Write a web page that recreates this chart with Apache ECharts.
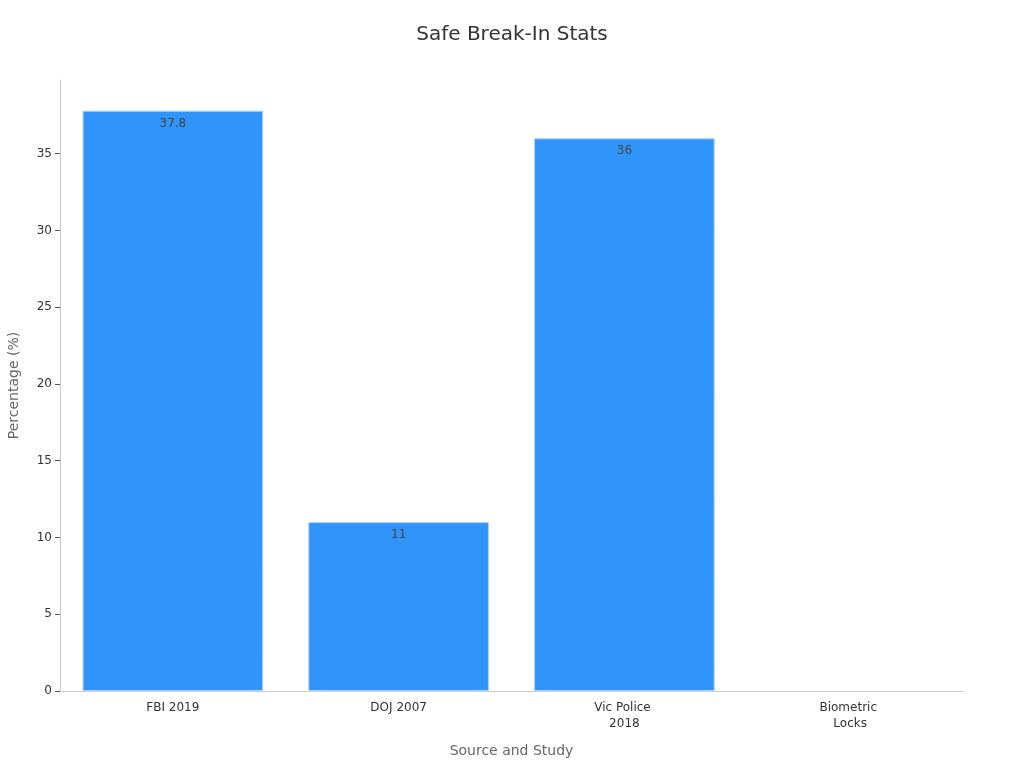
<!DOCTYPE html>
<html>
<head>
<meta charset="utf-8">
<script src="https://cdn.jsdelivr.net/npm/echarts@6/dist/echarts.min.js"></script>
<style>
  html, body { margin: 0; padding: 0; background: #fff; }
  #main { width: 1024px; height: 768px; }
</style>
</head>
<body>
<div id="main"></div>
<script>
  // data
  var categories = ['FBI 2019', 'DOJ 2007', 'Vic Police 2018', 'Biometric Locks'];
  var percentValues = [37.8, 11, 36, null];
  var yTicks = [0, 5, 10, 15, 20, 25, 30, 35];

  var myChart = echarts.init(document.getElementById('main'));
  myChart.setOption({
    textStyle: { fontFamily: 'DejaVu Sans' },
    title: {
      text: 'Safe Break-In Stats',
      left: 'center',
      top: 20,
      textStyle: { fontSize: 20, fontWeight: 'normal', color: '#333' }
    },
    grid: { left: 60, right: 61, top: 80, bottom: 77, outerBoundsMode: 'none', containLabel: false },
    xAxis: {
      type: 'category',
      data: categories,
      name: 'Source and Study',
      nameLocation: 'middle',
      nameGap: 53,
      nameTextStyle: { fontSize: 14, color: '#666' },
      axisLine: { lineStyle: { color: '#ccc' } },
      axisTick: { alignWithLabel: true, lineStyle: { color: '#555' } },
      axisLabel: {
        color: '#333', fontSize: 12, margin: 9, lineHeight: 16,
        width: 80, overflow: 'break', interval: 0
      }
    },
    yAxis: {
      type: 'value',
      min: 0,
      max: 39.8,
      interval: 5,
      name: 'Percentage (%)',
      nameLocation: 'middle',
      nameGap: 39,
      nameTextStyle: { fontSize: 14, color: '#666' },
      axisLine: { show: true, lineStyle: { color: '#ccc' } },
      axisTick: { show: true, customValues: yTicks, lineStyle: { color: '#555' } },
      axisLabel: { color: '#333', fontSize: 12, customValues: yTicks },
      splitLine: { show: false }
    },
    series: [
      {
        type: 'bar',
        data: percentValues,
        barCategoryGap: '20%',
        itemStyle: { color: '#3094fa', borderColor: '#a9d1fb', borderWidth: 1 },
        label: {
          show: true,
          position: 'insideTop',
          distance: 7,
          color: '#444',
          fontSize: 12
        }
      }
    ]
  });
</script>
</body>
</html>
